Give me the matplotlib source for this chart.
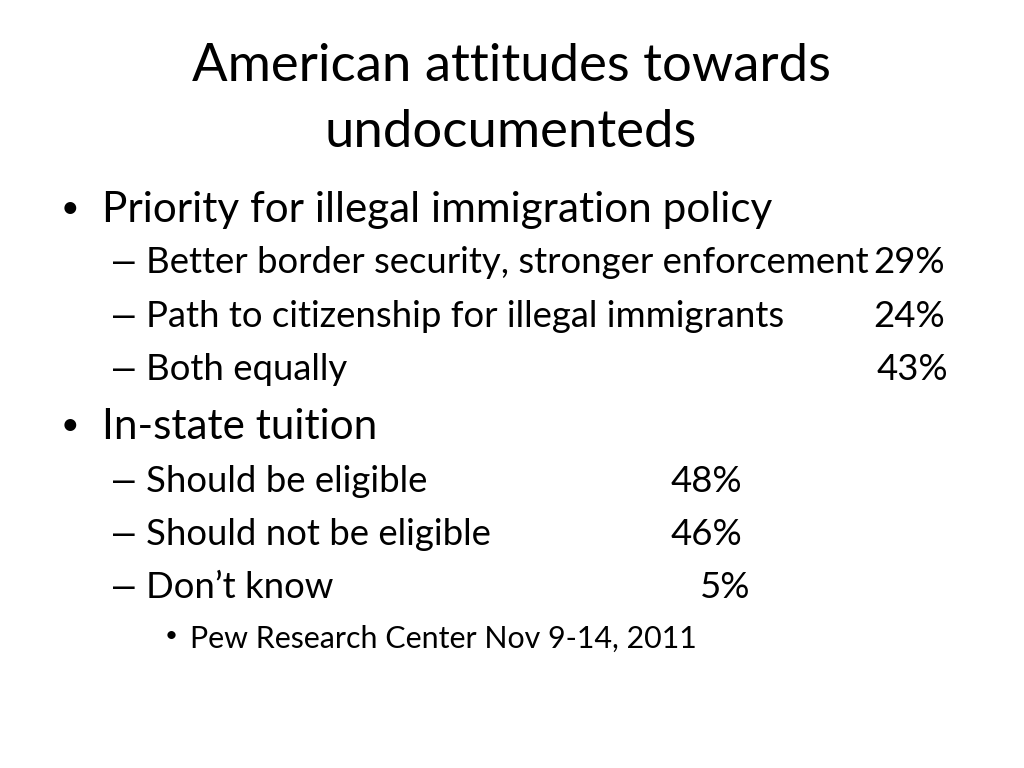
import matplotlib
matplotlib.use("Agg")
import matplotlib.pyplot as plt

# ─── data ────────────────────────────────────────────────────────────────────
title_lines = ["American attitudes towards", "undocumenteds"]

heading_1 = "Priority for illegal immigration policy"
priority_items = [
    "Better border security, stronger enforcement",
    "Path to citizenship for illegal immigrants",
    "Both equally",
]
priority_pcts = ["29%", "24%", "43%"]

heading_2 = "In-state tuition"
tuition_items = ["Should be eligible", "Should not be eligible", "Don\u2019t know"]
tuition_pcts = ["48%", "46%", "5%"]

source = "Pew Research Center Nov 9-14, 2011"

# ─── figure ──────────────────────────────────────────────────────────────────
FONT = "Lato"
W, H = 1024, 768
fig = plt.figure(figsize=(W / 100, H / 100), dpi=100)
ax = fig.add_axes([0, 0, 1, 1])
ax.set_xlim(0, W)
ax.set_ylim(H, 0)
ax.axis("off")

TITLE_FS, HEAD_FS, SUB_FS, SRC_FS = 37.9, 30.4, 26.3, 21.9

# title (baselines)
for line, y in zip(title_lines, [81, 147]):
    ax.text(511, y, line, ha="center", va="baseline", fontsize=TITLE_FS, family=FONT)


def bullet(y, text):
    ax.text(70, y - 13, "\u2022", ha="center", va="center", fontsize=23, family=FONT)
    ax.text(102, y, text, ha="left", va="baseline", fontsize=HEAD_FS, family=FONT)


def sub(y, text, pct, pct_right):
    # long dash like the Calibri en dash
    ax.text(123.5, y, "\u2013", ha="center", va="baseline", fontsize=28,
            family="Liberation Sans")
    ax.text(146, y, text, ha="left", va="baseline", fontsize=SUB_FS, family=FONT)
    ax.text(pct_right, y, pct, ha="right", va="baseline", fontsize=SUB_FS, family=FONT)


bullet(222, heading_1)
for y, item, pct, r in zip([273, 327, 380], priority_items, priority_pcts, [945, 945, 948]):
    sub(y, item, pct, r)

bullet(439, heading_2)
for y, item, pct, r in zip([492, 545, 598], tuition_items, tuition_pcts, [742, 742, 750]):
    sub(y, item, pct, r)

ax.text(171, 636, "\u2022", ha="center", va="center", fontsize=16, family=FONT)
ax.text(190, 648, source, ha="left", va="baseline", fontsize=SRC_FS, family=FONT)

fig.savefig("out.png", dpi=100)
